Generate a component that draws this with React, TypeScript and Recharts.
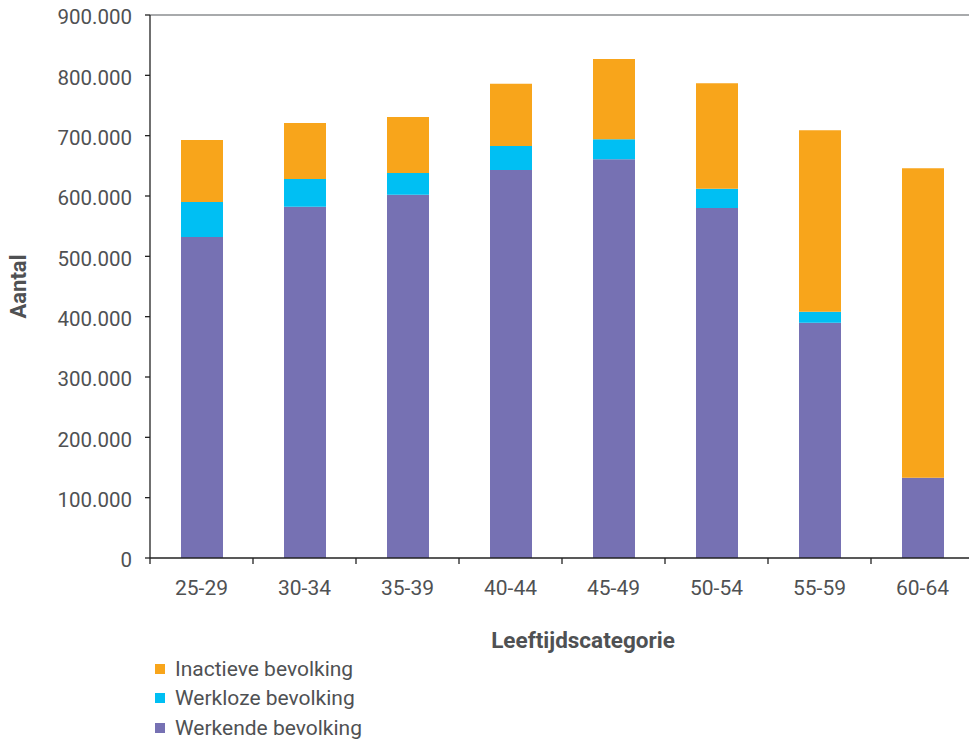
import React from 'react';
import { BarChart, Bar, XAxis, YAxis, ReferenceLine } from 'recharts';

const categories = ['25-29', '30-34', '35-39', '40-44', '45-49', '50-54', '55-59', '60-64'];
const werkende = [532000, 582000, 602000, 643000, 661000, 580000, 390000, 133000];
const werkloze = [58000, 46000, 36000, 40000, 33000, 32000, 18000, 0];
const inactieve = [103000, 93000, 93000, 103000, 133000, 175000, 301000, 513000];
const yTicks = [0, 100000, 200000, 300000, 400000, 500000, 600000, 700000, 800000, 900000];

const series = [
  { key: 'werkende', name: 'Werkende bevolking', color: '#7671B3' },
  { key: 'werkloze', name: 'Werkloze bevolking', color: '#00BFF3' },
  { key: 'inactieve', name: 'Inactieve bevolking', color: '#F8A51B' },
];

const data = categories.map((cat, i) => ({
  cat,
  werkende: werkende[i],
  werkloze: werkloze[i],
  inactieve: inactieve[i],
}));

const FONT = 'Roboto, sans-serif';
const TEXT = '#4f5153';
const PLOT_TOP = 15;
const PLOT_BOTTOM = 558;

const fmt = (v: number) => v.toLocaleString('de-DE');

function CatTick(props: any) {
  const { x, y, payload } = props;
  const half = payload.offset ?? 51.5;
  return (
    <g>
      <line x1={x - half} x2={x - half} y1={PLOT_BOTTOM} y2={PLOT_BOTTOM + 6} stroke="#222" strokeWidth={1.3} />
      <text x={x} y={y} dy="0.71em" textAnchor="middle" fill={TEXT} fontSize={21} fontFamily={FONT}>
        {payload.value}
      </text>
    </g>
  );
}

export default function App() {
  return (
    <div style={{ position: 'absolute', left: 0, top: 0, width: 969, height: 739, overflow: 'hidden', background: '#fff' }}>
      <BarChart
        width={975}
        height={739}
        data={data}
        margin={{ top: PLOT_TOP, right: 1, left: 0, bottom: 0 }}
        barCategoryGap={0}
      >
        <ReferenceLine y={900000} stroke="#8b8e90" strokeWidth={1.5} />
        <XAxis
          dataKey="cat"
          height={181}
          axisLine={{ stroke: '#222', strokeWidth: 1.3 }}
          tickLine={false}
          tickMargin={16}
          tickSize={6}
          tick={<CatTick />}
          interval={0}
          label={{
            content: (p: any) => (
              <text
                x={p.viewBox.x + p.viewBox.width / 2 + 21}
                y={648}
                textAnchor="middle"
                fill={TEXT}
                fontSize={22.5}
                fontWeight="bold"
                fontFamily={FONT}
              >
                Leeftijdscategorie
              </text>
            ),
          }}
        />
        <YAxis
          width={150}
          domain={[0, 900000]}
          ticks={yTicks}
          interval={0}
          tickFormatter={fmt}
          axisLine={{ stroke: '#222', strokeWidth: 1.3 }}
          tickLine={{ stroke: '#222', strokeWidth: 1.3 }}
          tickSize={5}
          tickMargin={13}
          tick={{ fill: TEXT, fontSize: 20.5, fontFamily: FONT, dy: 2 }}
          label={{
            content: (p: any) => {
              const cy = p.viewBox.y + p.viewBox.height / 2;
              return (
                <text
                  x={26}
                  y={cy}
                  transform={`rotate(-90, 26, ${cy})`}
                  textAnchor="middle"
                  fill={TEXT}
                  fontSize={22}
                  fontWeight="bold"
                  fontFamily={FONT}
                >
                  Aantal
                </text>
              );
            },
          }}
        />
        {series.map((s) => (
          <Bar key={s.key} dataKey={s.key} name={s.name} stackId="a" fill={s.color} barSize={42} isAnimationActive={false} />
        ))}
      </BarChart>
      <div style={{ position: 'absolute', left: 155, top: 654, fontFamily: FONT, fontSize: 21, color: TEXT }}>
        {[...series].reverse().map((s) => (
          <div key={s.key} style={{ display: 'flex', alignItems: 'center', height: 29.5 }}>
            <span style={{ width: 10, height: 10, background: s.color, display: 'inline-block', marginRight: 10 }} />
            <span>{s.name}</span>
          </div>
        ))}
      </div>
    </div>
  );
}
